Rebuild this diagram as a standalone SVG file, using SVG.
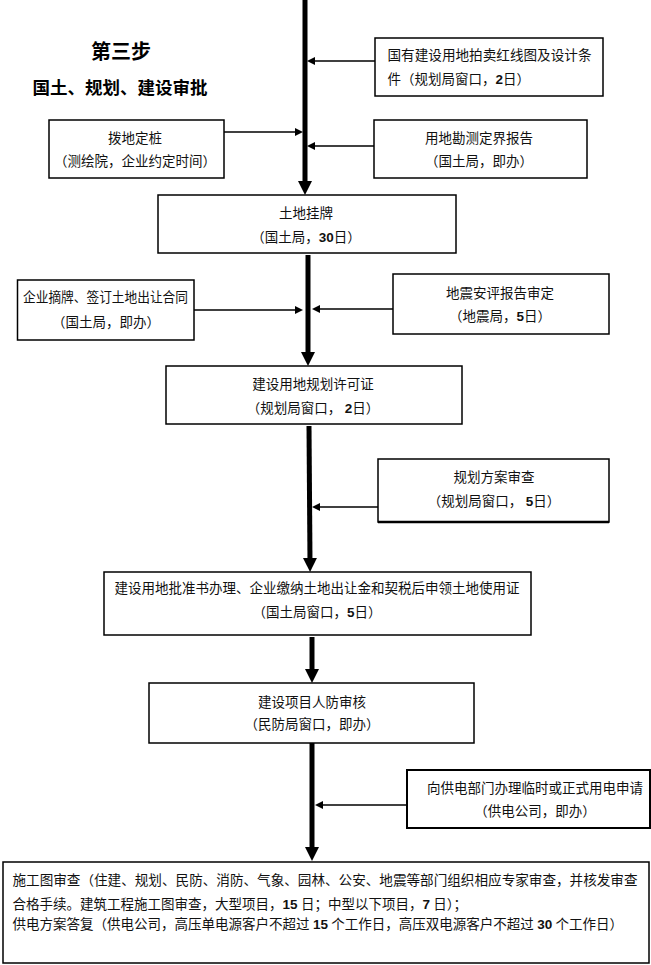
<svg xmlns="http://www.w3.org/2000/svg" width="651" height="965" viewBox="0 0 651 965">
<style>
.box{fill:#fff;stroke:#000;stroke-width:1.5}
.t{font-family:"Liberation Serif","Noto Sans CJK SC",serif;font-size:13.5px;fill:#111}
.c{text-anchor:middle}
.n{font-family:"Liberation Sans","Noto Sans CJK SC",sans-serif;font-weight:bold}
.main{stroke:#000;stroke-width:5;fill:none}
.side{stroke:#000;stroke-width:1.5;fill:none}
.title{font-family:"Noto Sans CJK SC",sans-serif;font-weight:bold;fill:#000;text-anchor:middle}
</style>
<defs>
<marker id="bigArrow" viewBox="0 0 14 14" refX="4" refY="7" markerWidth="14" markerHeight="14" markerUnits="userSpaceOnUse" orient="auto"><path d="M0,0 L14,7 L0,14 z" fill="#000"/></marker>
<marker id="smallArrow" viewBox="0 0 8 8" refX="2" refY="4" markerWidth="8" markerHeight="8" markerUnits="userSpaceOnUse" orient="auto"><path d="M0,0 L8,4 L0,8 z" fill="#000"/></marker>
</defs>
<rect width="651" height="965" fill="#fff"/>

<g id="title">
<text class="title" x="121" y="59" font-size="20">第三步</text>
<text class="title" x="120" y="94" font-size="17.5">国土、规划、建设审批</text>
</g>

<g id="connectors">
<line class="main" x1="305" y1="0" x2="305" y2="185" marker-end="url(#bigArrow)"/>
<line class="main" x1="308" y1="255" x2="308" y2="356" marker-end="url(#bigArrow)"/>
<line class="main" x1="309" y1="426" x2="310" y2="562" marker-end="url(#bigArrow)"/>
<line class="main" x1="312" y1="637" x2="312" y2="673" marker-end="url(#bigArrow)"/>
<line class="main" x1="312" y1="743" x2="312" y2="851" marker-end="url(#bigArrow)"/>
<line class="side" x1="375" y1="61" x2="313" y2="61" marker-end="url(#smallArrow)"/>
<line class="side" x1="224" y1="132" x2="297" y2="132" marker-end="url(#smallArrow)"/>
<line class="side" x1="374" y1="146" x2="313" y2="146" marker-end="url(#smallArrow)"/>
<line class="side" x1="194" y1="310" x2="297" y2="310" marker-end="url(#smallArrow)"/>
<line class="side" x1="393" y1="309" x2="318" y2="309" marker-end="url(#smallArrow)"/>
<line class="side" x1="378" y1="507" x2="318" y2="507" marker-end="url(#smallArrow)"/>
<line class="side" x1="407" y1="805" x2="321" y2="805" marker-end="url(#smallArrow)"/>
</g>

<g id="n1">
<rect class="box" x="375" y="38" width="228" height="58"/>
<text class="t" x="387.5" y="60" textLength="204" lengthAdjust="spacingAndGlyphs">国有建设用地拍卖红线图及设计条</text>
<text class="t" x="387.5" y="84">件（规划局窗口，<tspan class="n">2</tspan>日）</text>
</g>
<g id="n2">
<rect class="box" x="49" y="120" width="175" height="58"/>
<text class="t c" x="135" y="143">拨地定桩</text>
<text class="t c" x="135" y="166">（测绘院，企业约定时间）</text>
</g>
<g id="n3">
<rect class="box" x="374" y="120" width="213" height="58"/>
<text class="t c" x="479" y="143">用地勘测定界报告</text>
<text class="t c" x="479" y="166">（国土局，即办）</text>
</g>
<g id="n4">
<rect class="box" x="158" y="195" width="298" height="58"/>
<text class="t c" x="306" y="218">土地挂牌</text>
<text class="t c" x="306" y="242">（国土局，<tspan class="n">30</tspan>日）</text>
</g>
<g id="n5">
<rect class="box" x="17.5" y="280" width="176.5" height="60"/>
<text class="t" x="23" y="302" textLength="165" lengthAdjust="spacingAndGlyphs">企业摘牌、签订土地出让合同</text>
<text class="t c" x="106" y="327">（国土局，即办）</text>
</g>
<g id="n6">
<rect class="box" x="393" y="274" width="216" height="60"/>
<text class="t c" x="500" y="298">地震安评报告审定</text>
<text class="t c" x="500" y="321">（地震局，<tspan class="n">5</tspan>日）</text>
</g>
<g id="n7">
<rect class="box" x="166" y="366" width="296" height="58"/>
<text class="t c" x="313" y="389">建设用地规划许可证</text>
<text class="t c" x="313" y="413">（规划局窗口， <tspan class="n">2</tspan>日）</text>
</g>
<g id="n8">
<rect class="box" x="378" y="459" width="231" height="63"/>
<line x1="378" y1="522" x2="609" y2="522" stroke="#000" stroke-width="2.5"/>
<text class="t c" x="494" y="482">规划方案审查</text>
<text class="t c" x="494" y="506">（规划局窗口， <tspan class="n">5</tspan>日）</text>
</g>
<g id="n9">
<rect class="box" x="104" y="572" width="427" height="63"/>
<text class="t c" x="317" y="593">建设用地批准书办理、企业缴纳土地出让金和契税后申领土地使用证</text>
<text class="t c" x="317" y="617">（国土局窗口，<tspan class="n">5</tspan>日）</text>
</g>
<g id="n10">
<rect class="box" x="149" y="683" width="325" height="60"/>
<text class="t c" x="312" y="707">建设项目人防审核</text>
<text class="t c" x="312" y="729">（民防局窗口，即办）</text>
</g>
<g id="n11">
<rect class="box" x="407" y="770" width="243" height="58" style="stroke-width:2"/>
<text class="t c" x="535" y="793">向供电部门办理临时或正式用电申请</text>
<text class="t c" x="535" y="816">（供电公司，即办）</text>
</g>
<g id="n12">
<rect class="box" x="3" y="862" width="646" height="101"/>
<text class="t" x="12.5" y="885" textLength="625" lengthAdjust="spacingAndGlyphs">施工图审查（住建、规划、民防、消防、气象、园林、公安、地震等部门组织相应专家审查，并核发审查</text>
<text class="t" x="12.5" y="909">合格手续。建筑工程施工图审查，大型项目，<tspan class="n">15</tspan> 日；中型以下项目，<tspan class="n">7</tspan> 日）；</text>
<text class="t" x="12.5" y="929">供电方案答复（供电公司，高压单电源客户不超过 <tspan class="n">15</tspan> 个工作日，高压双电源客户不超过 <tspan class="n">30</tspan> 个工作日）</text>
</g>
</svg>
